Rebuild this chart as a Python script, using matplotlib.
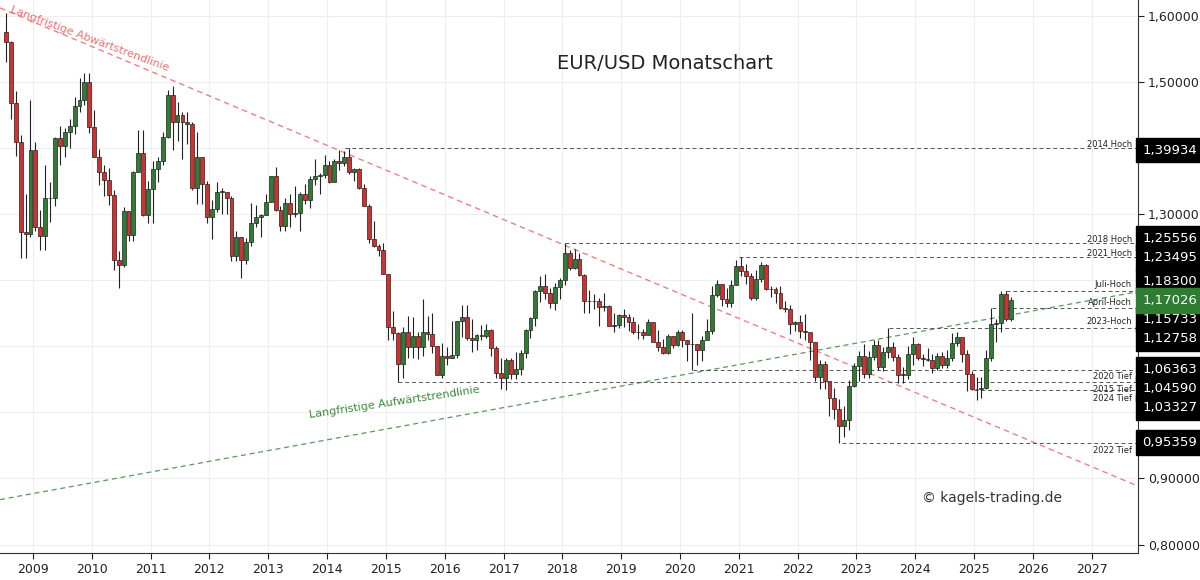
import matplotlib.pyplot as plt
from matplotlib.transforms import blended_transform_factory

# Monatskerzen EUR/USD, 2008-07 bis 2025-08 (open = voriger Schluss)
first_open = 1.5750
start_year, start_month = 2008, 7
closes = [1.5600, 1.4680, 1.4090, 1.2730, 1.2700, 1.3970,
          1.2800, 1.2670, 1.3250, 1.3240, 1.4150, 1.4030, 1.4250, 1.4330, 1.4640, 1.4720, 1.5000, 1.4320,
          1.3860, 1.3630, 1.3510, 1.3290, 1.2300, 1.2230, 1.3050, 1.2680, 1.3630, 1.3930, 1.2980, 1.3380,
          1.3690, 1.3810, 1.4160, 1.4810, 1.4390, 1.4500, 1.4390, 1.4370, 1.3390, 1.3860, 1.3450, 1.2960,
          1.3080, 1.3340, 1.3340, 1.3240, 1.2370, 1.2660, 1.2300, 1.2580, 1.2860, 1.2960, 1.2990, 1.3190,
          1.3580, 1.3060, 1.2820, 1.3170, 1.3000, 1.3010, 1.3300, 1.3220, 1.3530, 1.3580, 1.3590, 1.3750,
          1.3480, 1.3800, 1.3770, 1.3870, 1.3630, 1.3690, 1.3390, 1.3130, 1.2630, 1.2520, 1.2450, 1.2100,
          1.1290, 1.1200, 1.0730, 1.1220, 1.0990, 1.1150, 1.0990, 1.1210, 1.1180, 1.1000, 1.0570, 1.0860,
          1.0830, 1.0870, 1.1380, 1.1450, 1.1130, 1.1100, 1.1170, 1.1150, 1.1240, 1.0980, 1.0590, 1.0520,
          1.0800, 1.0580, 1.0650, 1.0900, 1.1240, 1.1430, 1.1840, 1.1910, 1.1810, 1.1650, 1.1900, 1.2000,
          1.2410, 1.2190, 1.2320, 1.2080, 1.1690, 1.1680, 1.1690, 1.1600, 1.1610, 1.1310, 1.1320, 1.1470,
          1.1450, 1.1370, 1.1220, 1.1210, 1.1170, 1.1370, 1.1070, 1.0990, 1.0900, 1.1150, 1.1020, 1.1210,
          1.1090, 1.1030, 1.1030, 1.0950, 1.1100, 1.1230, 1.1780, 1.1940, 1.1720, 1.1650, 1.1930, 1.2220,
          1.2140, 1.2070, 1.1730, 1.2020, 1.2230, 1.1860, 1.1870, 1.1810, 1.1580, 1.1560, 1.1340, 1.1370,
          1.1230, 1.1220, 1.1070, 1.0540, 1.0730, 1.0480, 1.0220, 1.0050, 0.9800, 0.9880, 1.0400, 1.0700,
          1.0860, 1.0580, 1.0840, 1.1020, 1.0690, 1.0910, 1.0990, 1.0840, 1.0570, 1.0570, 1.0890, 1.1040,
          1.0820, 1.0810, 1.0790, 1.0670, 1.0850, 1.0710, 1.0820, 1.1050, 1.1140, 1.0880, 1.0580, 1.0350,
          1.0360, 1.0370, 1.0820, 1.1330, 1.1350, 1.1790, 1.1410, 1.1703]
highs = [1.6038, 1.5620, 1.4860, 1.4200, 1.3300, 1.4720,
         1.4090, 1.3060, 1.3740, 1.3490, 1.4170, 1.4340, 1.4300, 1.4440, 1.4770, 1.5060, 1.5140, 1.5140,
         1.4580, 1.3990, 1.3750, 1.3700, 1.3370, 1.2440, 1.3110, 1.3050, 1.3650, 1.4280, 1.4280, 1.3500,
         1.3800, 1.3860, 1.4250, 1.4880, 1.4940, 1.4700, 1.4540, 1.4550, 1.4390, 1.4250, 1.3840, 1.3500,
         1.3220, 1.3490, 1.3390, 1.3290, 1.3280, 1.2750, 1.2390, 1.2640, 1.3170, 1.3140, 1.3000, 1.3310,
         1.3580, 1.3710, 1.3120, 1.3240, 1.3300, 1.3420, 1.3340, 1.3450, 1.3570, 1.3830, 1.3620, 1.3890,
         1.3800, 1.3830, 1.3970, 1.3950, 1.3993, 1.3700, 1.3700, 1.3450, 1.3150, 1.2890, 1.2550, 1.2570,
         1.2100, 1.1530, 1.1220, 1.1290, 1.1460, 1.1440, 1.1220, 1.1710, 1.1460, 1.1500, 1.1010, 1.1050,
         1.0990, 1.1380, 1.1390, 1.1620, 1.1620, 1.1420, 1.1190, 1.1320, 1.1330, 1.1260, 1.1000, 1.0830,
         1.0830, 1.0830, 1.0910, 1.0950, 1.1260, 1.1450, 1.1850, 1.2070, 1.2090, 1.1880, 1.1960, 1.2030,
         1.2556, 1.2460, 1.2470, 1.2410, 1.2100, 1.1850, 1.1790, 1.1730, 1.1810, 1.1620, 1.1500, 1.1490,
         1.1570, 1.1490, 1.1450, 1.1330, 1.1260, 1.1410, 1.1290, 1.1250, 1.1110, 1.1180, 1.1100, 1.1240,
         1.1240, 1.1090, 1.1500, 1.1000, 1.1150, 1.1420, 1.1910, 1.2010, 1.1920, 1.1880, 1.2000, 1.2310,
         1.2350, 1.2240, 1.2110, 1.2150, 1.2270, 1.2250, 1.1910, 1.1900, 1.1910, 1.1690, 1.1620, 1.1390,
         1.1480, 1.1490, 1.1170, 1.1070, 1.0790, 1.0780, 1.0350, 1.0370, 1.0200, 1.0090, 1.0490, 1.0740,
         1.0930, 1.1030, 1.0930, 1.1100, 1.1090, 1.0990, 1.1276, 1.1070, 1.0880, 1.0690, 1.1010, 1.1140,
         1.1050, 1.0890, 1.0980, 1.0890, 1.0900, 1.0920, 1.0950, 1.1200, 1.1210, 1.1140, 1.0940, 1.0630,
         1.0530, 1.0530, 1.0950, 1.1573, 1.1420, 1.1830, 1.1830, 1.1740]
lows = [1.5300, 1.4440, 1.3880, 1.2330, 1.2330, 1.2660,
        1.2740, 1.2460, 1.2460, 1.2880, 1.3120, 1.3750, 1.3870, 1.4000, 1.4210, 1.4540, 1.4650, 1.4220,
        1.3860, 1.3440, 1.3270, 1.3140, 1.2150, 1.1880, 1.2200, 1.2590, 1.2590, 1.3670, 1.2970, 1.2870,
        1.2860, 1.3480, 1.3740, 1.4150, 1.3970, 1.4110, 1.3840, 1.4060, 1.3360, 1.3150, 1.3150, 1.2860,
        1.2620, 1.3030, 1.3000, 1.3000, 1.2290, 1.2290, 1.2040, 1.2240, 1.2520, 1.2800, 1.2660, 1.2990,
        1.3180, 1.3040, 1.2750, 1.2750, 1.2800, 1.2960, 1.2750, 1.3150, 1.3100, 1.3440, 1.3300, 1.3540,
        1.3470, 1.3480, 1.3670, 1.3730, 1.3600, 1.3500, 1.3380, 1.3150, 1.2570, 1.2500, 1.2360, 1.2100,
        1.1100, 1.1100, 1.0459, 1.0520, 1.0820, 1.0820, 1.0810, 1.0850, 1.1090, 1.0900, 1.0570, 1.0520,
        1.0710, 1.0830, 1.0820, 1.1140, 1.1100, 1.0910, 1.0950, 1.1100, 1.1120, 1.0850, 1.0520, 1.0350,
        1.0340, 1.0500, 1.0500, 1.0570, 1.0830, 1.1120, 1.1310, 1.1670, 1.1720, 1.1580, 1.1550, 1.1720,
        1.1920, 1.2150, 1.2170, 1.2070, 1.1510, 1.1500, 1.1570, 1.1300, 1.1530, 1.1300, 1.1220, 1.1270,
        1.1290, 1.1230, 1.1180, 1.1110, 1.1110, 1.1180, 1.1070, 1.0930, 1.0880, 1.0880, 1.0980, 1.1000,
        1.0990, 1.0770, 1.0636, 1.0720, 1.0770, 1.1170, 1.1180, 1.1750, 1.1610, 1.1600, 1.1600, 1.1920,
        1.2060, 1.1950, 1.1700, 1.1700, 1.1980, 1.1850, 1.1750, 1.1660, 1.1560, 1.1520, 1.1190, 1.1230,
        1.1120, 1.1100, 1.0800, 1.0470, 1.0350, 1.0350, 0.9950, 0.9900, 0.9536, 0.9630, 0.9730, 1.0390,
        1.0480, 1.0520, 1.0520, 1.0790, 1.0640, 1.0630, 1.0830, 1.0770, 1.0450, 1.0450, 1.0510, 1.0720,
        1.0790, 1.0700, 1.0770, 1.0600, 1.0640, 1.0670, 1.0670, 1.0770, 1.1000, 1.0760, 1.0330, 1.0340,
        1.0180, 1.0210, 1.0360, 1.0780, 1.1060, 1.1210, 1.1390, 1.1390]

years = list(range(2009, 2028))
price_ticks = [0.8, 0.9, 1.0, 1.1, 1.2, 1.3, 1.4, 1.5, 1.6]
# Preisbeschriftungen, die im Original von den Boxen verdeckt sind, bleiben leer
hidden_ticks = [1.0, 1.1, 1.2, 1.4]

# horizontale Marken: (Name, Kurs, Startdatum)
levels = [("2014 Hoch", 1.39934, 2014.3),
          ("2018 Hoch", 1.25556, 2018.05),
          ("2021 Hoch", 1.23495, 2021.0),
          ("Juli-Hoch", 1.18300, 2025.55),
          ("April-Hoch", 1.15733, 2025.3),
          ("2023-Hoch", 1.12758, 2023.55),
          ("2020 Tief", 1.06363, 2020.22),
          ("2015 Tief", 1.04590, 2015.2),
          ("2024 Tief", 1.03327, 2025.0),
          ("2022 Tief", 0.95359, 2022.75)]
# Label- und Boxpositionen (gestapelt, damit nichts ueberlappt)
label_y = [1.4055, 1.2615, 1.2410, 1.1930, 1.1670, 1.1370, 1.0540, 1.0340, 1.0206, 0.9420]
box_y = [1.3970, 1.2626, 1.2339, 1.1976, 1.1401, 1.1113, 1.0644, 1.0357, 1.0070, 0.9540]
current = 1.17026
current_y = 1.1688

up_col, dn_col = "#2e7d32", "#d32f2f"

fig = plt.figure(figsize=(12, 5.8), dpi=100)
ax = fig.add_axes([0.0, 0.047, 0.948, 0.953])
ax.set_xlim(2008.44, 2027.78)
ax.set_ylim(0.7876, 1.624)

prev = first_open
for i, c in enumerate(closes):
    m = start_month - 1 + i
    x = start_year + m // 12 + (m % 12 + 0.5) / 12
    o = prev
    h = max(highs[i], o, c)
    l = min(lows[i], o, c)
    col = up_col if c >= o else dn_col
    ax.vlines(x, l, h, color="#222222", lw=0.8, zorder=3)
    ax.bar(x, abs(c - o) or 0.0008, bottom=min(o, c), width=0.066,
           color=col, edgecolor="#222222", lw=0.5, zorder=4)
    prev = c

# Trendlinien
ax.plot([2008.44, 2027.78], [1.612, 1.612 - 0.0374 * 19.34],
        ls=(0, (4, 3)), color="#f08080", lw=1.0, zorder=2)
ax.plot([2008.44, 2027.78], [0.868, 1.1825], ls=(0, (4, 3)),
        color="#5a9a5a", lw=0.9, zorder=2)
ax.text(2008.6, 1.605, "Langfristige Abwärtstrendlinie", color="#f07070",
        fontsize=8, rotation=-20.5, rotation_mode="anchor")
ax.text(2013.7, 0.992, "Langfristige Aufwärtstrendlinie", color="#3c8a3c",
        fontsize=8, rotation=8.5, rotation_mode="anchor")

trans = blended_transform_factory(ax.transAxes, ax.transData)
box_kw = dict(transform=trans, ha="left", va="center", fontsize=9.5, color="white",
              clip_on=False, zorder=10)
for (name, val, start), ly, by in zip(levels, label_y, box_y):
    ax.hlines(val, start, 2027.78, colors="#555555", linestyles=(0, (4, 3)), lw=0.7, zorder=2)
    ax.text(0.995, ly, name, transform=trans, ha="right", va="center",
            fontsize=6, color="#222222")
    ax.text(1.004, by, f"{val:.5f}".replace(".", ","),
            bbox=dict(boxstyle="square,pad=0.45", fc="black", ec="black"), **box_kw)
ax.text(1.004, current_y, f"{current:.5f}".replace(".", ","),
        bbox=dict(boxstyle="square,pad=0.45", fc="#2e7d32", ec="#2e7d32"), **box_kw)

ax.text(2019.75, 1.52, "EUR/USD Monatschart", fontsize=14, color="#222222", ha="center")
ax.text(2025.3, 0.865, "© kagels-trading.de", fontsize=10, color="#333333", ha="center")

ax.yaxis.tick_right()
ax.set_yticks(price_ticks)
ax.set_yticklabels(["" if t in hidden_ticks else f"{t:.5f}".replace(".", ",")
                    for t in price_ticks])
ax.set_xticks(years)
ax.set_xticklabels([str(y) for y in years])
ax.tick_params(labelsize=9, colors="#222222", length=4)
ax.grid(True, color="#eeeeee", lw=0.8, zorder=0)
for s in ["top", "left"]:
    ax.spines[s].set_visible(False)
ax.spines["right"].set_color("#333333")
ax.spines["bottom"].set_color("#333333")

fig.savefig("out.png", dpi=100)
